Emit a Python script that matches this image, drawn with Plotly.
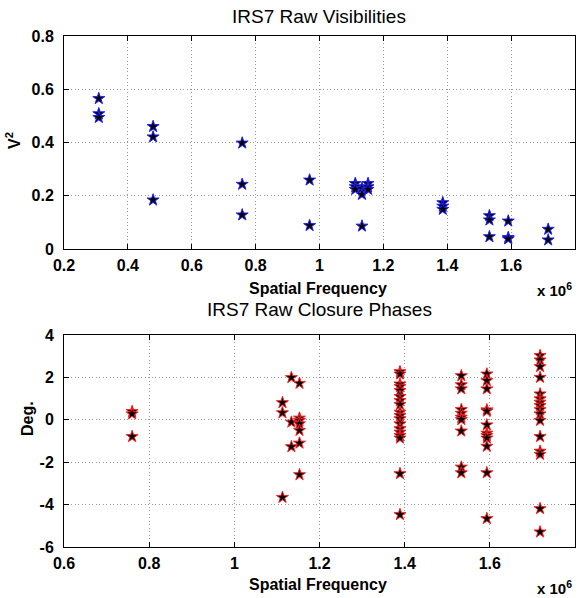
import plotly.graph_objects as go

# ---- data (spatial frequency in units of 1e6) ----
vis_freq = [0.309, 0.309, 0.309, 0.479, 0.479, 0.479, 0.758, 0.758, 0.758,
            0.969, 0.969, 1.112, 1.112, 1.112, 1.133, 1.133, 1.133,
            1.152, 1.152, 1.152, 1.386, 1.386, 1.386, 1.532, 1.532, 1.532,
            1.591, 1.591, 1.591, 1.716, 1.716]
vis_v2 = [0.565, 0.508, 0.494, 0.460, 0.421, 0.184, 0.398, 0.243, 0.128,
          0.259, 0.088, 0.246, 0.234, 0.224, 0.228, 0.205, 0.086,
          0.246, 0.234, 0.224, 0.174, 0.161, 0.149, 0.125, 0.109, 0.046,
          0.105, 0.043, 0.038, 0.074, 0.034]

cp_f076 = [0.39, 0.28, -0.79]
cp_f111 = [0.81, 0.33, -3.66]
cp_f113 = [1.99, -0.11, -1.27]
cp_f115 = [1.72, 0.08, -0.03, -0.19, -0.50, -1.10, -2.59]
cp_f139 = [2.27, 2.16, 1.69, 1.57, 1.38, 1.10, 0.91, 0.72, 0.36, 0.20, 0.05,
           -0.19, -0.42, -0.58, -0.74, -0.86, -2.54, -4.47]
cp_f153 = [2.08, 1.65, 1.46, 0.48, 0.31, 0.12, 0.01, -0.53, -2.23, -2.50]
cp_f159 = [2.16, 1.85, 1.46, 0.47, 0.41, -0.24, -0.63, -0.74, -0.86, -1.25,
           -2.50, -4.66]
cp_f172 = [3.03, 2.82, 2.51, 2.00, 1.22, 0.99, 0.83, 0.67, 0.48, 0.28, -0.03,
           -0.79, -1.48, -1.63, -4.19, -5.29]
cp_group_freq = [0.760, 1.113, 1.134, 1.153, 1.389, 1.533, 1.593, 1.718]
cp_groups = [cp_f076, cp_f111, cp_f113, cp_f115, cp_f139, cp_f153, cp_f159, cp_f172]

cp_freq, cp_deg = [], []
for f, g in zip(cp_group_freq, cp_groups):
    cp_freq += [f] * len(g)
    cp_deg += g

vis_xticks = [0.2, 0.4, 0.6, 0.8, 1.0, 1.2, 1.4, 1.6, 1.8]
vis_yticks = [0, 0.2, 0.4, 0.6, 0.8]
cp_xticks = [0.6, 0.8, 1.0, 1.2, 1.4, 1.6, 1.8]
cp_yticks = [-6, -4, -2, 0, 2, 4]

W, H = 584, 598
def px(x):
    return x / W
def py(y):
    return 1 - y / H

FONT = "Liberation Sans, Arial, Helvetica, sans-serif"

fig = go.Figure()
fig.add_trace(go.Scatter(
    x=vis_freq, y=vis_v2, mode="markers", xaxis="x", yaxis="y",
    marker=dict(symbol="star", size=9, color="black",
                line=dict(color="#2020ff", width=1)),
    showlegend=False))
fig.add_trace(go.Scatter(
    x=cp_freq, y=cp_deg, mode="markers", xaxis="x2", yaxis="y2",
    marker=dict(symbol="star", size=9, color="black",
                line=dict(color="#ff2020", width=1)),
    showlegend=False))

axis_common = dict(
    showline=True, linecolor="black", linewidth=1, mirror="ticks",
    ticks="inside", ticklen=5, tickcolor="black", automargin=False,
    showgrid=True, gridcolor="#999999", griddash="1px,2.5px", gridwidth=1,
    zeroline=False,
    tickfont=dict(family=FONT, size=16, color="black", weight="bold"),
)

fig.update_layout(
    template="none",
    width=W, height=H,
    margin=dict(l=0, r=0, t=0, b=0, pad=0),
    paper_bgcolor="white", plot_bgcolor="white",
    xaxis=dict(domain=[px(64), px(575)], anchor="y", range=[0.2, 1.8],
               tickvals=vis_xticks, ticktext=[f"{v:g}" for v in vis_xticks],
               ticklabelstandoff=2, **axis_common),
    yaxis=dict(domain=[py(249), py(36)], anchor="x", range=[0, 0.8],
               tickvals=vis_yticks, ticktext=[f"{v:g}" for v in vis_yticks],
               ticklabelstandoff=6, **axis_common),
    xaxis2=dict(domain=[px(64), px(575)], anchor="y2", range=[0.6, 1.8],
                tickvals=cp_xticks, ticktext=[f"{v:g}" for v in cp_xticks],
                ticklabelstandoff=2, **axis_common),
    yaxis2=dict(domain=[py(547), py(335)], anchor="x2", range=[-6, 4],
                tickvals=cp_yticks, ticktext=[f"{v:g}" for v in cp_yticks],
                ticklabelstandoff=6, **axis_common),
)

def ann(text, x, y, size, bold=False, angle=0):
    fig.add_annotation(
        text=text, x=px(x), y=py(y), xref="paper", yref="paper",
        showarrow=False, xanchor="center", yanchor="middle", textangle=angle,
        font=dict(family=FONT, size=size, color="black",
                  weight="bold" if bold else "normal"))

ann("IRS7 Raw Visibilities", 319, 17, 19)
ann("Spatial Frequency", 318, 288, 16, bold=True)
ann("x 10<sup>6</sup>", 554, 289, 15, bold=True)
ann("V<sup>2</sup>", 13, 141, 16, bold=True, angle=-90)

ann("IRS7 Raw Closure Phases", 319, 309, 19)
ann("Spatial Frequency", 318, 584, 16, bold=True)
ann("x 10<sup>6</sup>", 554, 587, 15, bold=True)
ann("Deg.", 27, 419, 16, bold=True, angle=-90)

fig.write_html("out.html")
